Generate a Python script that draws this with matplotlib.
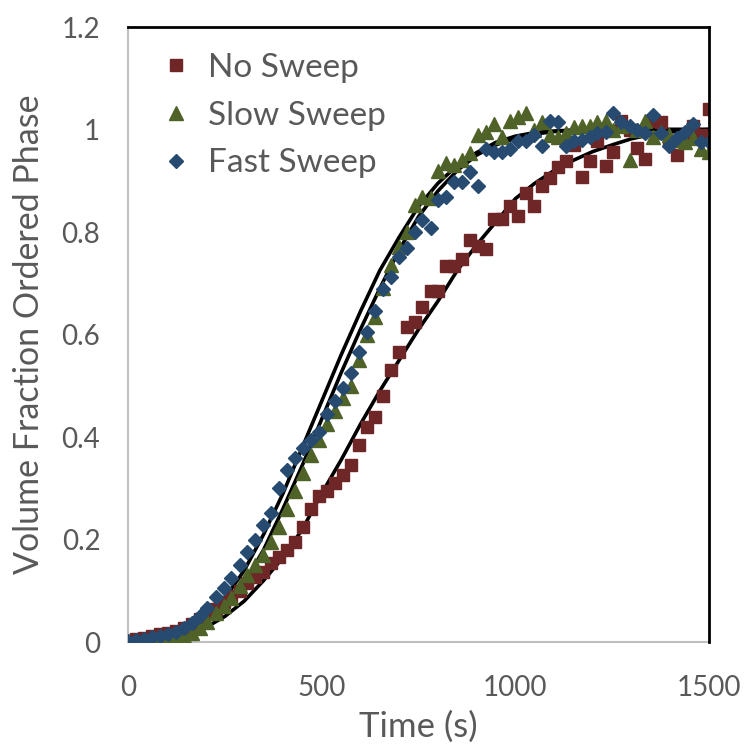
import numpy as np
import matplotlib
matplotlib.use("Agg")
import matplotlib.pyplot as plt

plt.rcParams['font.family'] = ['Lato', 'DejaVu Sans']

# === Data ===
times = [0, 21, 41, 62, 82, 103, 123, 144, 164, 185, 205, 226, 247, 267, 288, 308,
         329, 349, 370, 390, 411, 432, 452, 473, 493, 514, 534, 555, 575, 596, 616,
         637, 658, 678, 699, 719, 740, 760, 781, 801, 822, 842, 863, 884, 904, 925,
         945, 966, 986, 1007, 1027, 1048, 1068, 1089, 1110, 1130, 1151, 1171, 1192,
         1212, 1233, 1253, 1274, 1295, 1315, 1336, 1356, 1377, 1397, 1418, 1438,
         1459, 1479, 1500]

no_sweep = [0.0, 0.005, 0.008, 0.012, 0.015, 0.018, 0.022, 0.027, 0.035, 0.045,
            0.055, 0.065, 0.078, 0.09, 0.10, 0.115, 0.127, 0.137, 0.155, 0.166,
            0.18, 0.195, 0.225, 0.26, 0.285, 0.295, 0.31, 0.325, 0.345, 0.385,
            0.42, 0.44, 0.48, 0.53, 0.566, 0.615, 0.625, 0.654, 0.684, 0.684,
            0.734, 0.734, 0.748, 0.785, 0.773, 0.767, 0.826, 0.826, 0.851, 0.832,
            0.876, 0.85, 0.889, 0.905, 0.926, 0.938, 0.97, 0.908, 0.938, 0.977,
            0.928, 0.957, 1.016, 1.0, 0.963, 0.943, 1.016, 1.014, 0.977, 0.951,
            0.986, 1.006, 0.99, 1.04]

slow_sweep = [0.0, 0.0, 0.002, 0.003, 0.004, 0.006, 0.008, 0.012, 0.018, 0.027,
              0.04, 0.056, 0.07, 0.085, 0.11, 0.13, 0.15, 0.17, 0.195, 0.225,
              0.26, 0.295, 0.33, 0.365, 0.395, 0.425, 0.45, 0.477, 0.50, 0.55,
              0.60, 0.635, 0.69, 0.735, 0.77, 0.80, 0.853, 0.869, 0.867, 0.92,
              0.935, 0.93, 0.94, 0.955, 0.99, 0.995, 1.01, 0.986, 1.016, 1.025,
              1.033, 1.0, 1.014, 0.99, 0.985, 0.994, 1.004, 1.006, 1.006, 1.014,
              1.016, 1.0, 1.006, 0.94, 1.0, 1.016, 0.986, 0.995, 0.99, 0.98,
              0.975, 0.984, 0.961, 0.957]

fast_sweep = [0.002, 0.003, 0.006, 0.009, 0.012, 0.016, 0.02, 0.027, 0.038, 0.05,
              0.066, 0.088, 0.105, 0.125, 0.15, 0.175, 0.2, 0.228, 0.252, 0.30,
              0.335, 0.36, 0.378, 0.395, 0.41, 0.445, 0.47, 0.495, 0.525, 0.566,
              0.605, 0.645, 0.688, 0.713, 0.752, 0.768, 0.80, 0.824, 0.807, 0.863,
              0.869, 0.898, 0.898, 0.918, 0.889, 0.961, 0.957, 0.957, 0.961, 0.977,
              0.977, 0.99, 0.967, 1.016, 1.014, 0.967, 0.977, 0.98, 0.986, 0.994,
              0.996, 1.033, 1.014, 1.006, 1.0, 0.994, 1.029, 0.994, 0.967, 0.984,
              0.996, 1.01, 0.975, 0.975]

# fitted curves
fit_times = [0, 50, 100, 150, 200, 250, 300, 350, 400, 450, 500, 550, 600, 650,
             700, 750, 800, 850, 900, 950, 1000, 1050, 1100, 1150, 1200, 1250,
             1300, 1350, 1400, 1450, 1500]
fit_a = [0.0, 0.002, 0.008, 0.022, 0.045, 0.085, 0.14, 0.21, 0.29, 0.38, 0.47,
         0.56, 0.645, 0.725, 0.79, 0.85, 0.895, 0.93, 0.955, 0.975, 0.987, 0.994,
         0.997, 0.999, 1.0, 1.0, 1.0, 1.0, 1.0, 1.0, 1.0]
fit_b = [0.0, 0.002, 0.007, 0.018, 0.038, 0.07, 0.115, 0.18, 0.26, 0.345, 0.435,
         0.525, 0.61, 0.69, 0.765, 0.83, 0.88, 0.92, 0.95, 0.97, 0.983, 0.991,
         0.996, 0.998, 1.0, 1.0, 1.0, 1.0, 1.0, 1.0, 1.0]
fit_c = [0.0, 0.001, 0.005, 0.013, 0.028, 0.05, 0.08, 0.12, 0.165, 0.22, 0.29,
         0.355, 0.425, 0.49, 0.55, 0.61, 0.665, 0.725, 0.775, 0.82, 0.865, 0.895,
         0.92, 0.94, 0.957, 0.97, 0.982, 0.99, 0.995, 0.998, 1.0]

x_ticks = [0, 500, 1000, 1500]
y_ticks = [0, 0.2, 0.4, 0.6, 0.8, 1.0, 1.2]
y_tick_labels = ["0", "0.2", "0.4", "0.6", "0.8", "1", "1.2"]

text_color = "#595959"

# === Plot ===
fig = plt.figure(figsize=(7.49, 7.48), dpi=100)
ax = fig.add_axes([0.171, 0.1417, 0.7756, 0.8222])

for fy in (fit_a, fit_b, fit_c):
    ax.plot(fit_times, fy, color="black", lw=2.6, zorder=2, solid_capstyle="butt")

ax.plot(times, no_sweep, ls="none", marker="s", ms=8.5, color="#6E2626",
        mec="#6E2626", label="No Sweep", zorder=3)
ax.plot(times, slow_sweep, ls="none", marker="^", ms=9.5, color="#4F6228",
        mec="#4F6228", label="Slow Sweep", zorder=3)
ax.plot(times, fast_sweep, ls="none", marker="D", ms=7.5, color="#264A70",
        mec="#264A70", label="Fast Sweep", zorder=3)

ax.set_xlim(0, 1500)
ax.set_ylim(0, 1.2)
ax.set_xticks(x_ticks)
ax.set_yticks(y_ticks)
ax.set_yticklabels(y_tick_labels)
ax.tick_params(length=0, labelsize=20, colors=text_color)
ax.tick_params(axis="y", pad=20)
ax.tick_params(axis="x", pad=24)

for side in ("left", "bottom"):
    ax.spines[side].set_color("#BFBFBF")
    ax.spines[side].set_linewidth(1.5)
for side in ("top", "right"):
    ax.spines[side].set_color("black")
    ax.spines[side].set_linewidth(2.0)
    ax.spines[side].set_zorder(4)

ax.set_xlabel("Time (s)", fontsize=25, color=text_color, labelpad=7)
ax.set_ylabel("Volume Fraction Ordered Phase", fontsize=24.5, color=text_color,
              labelpad=12)

leg = ax.legend(loc="upper left", bbox_to_anchor=(0.02, 0.99), frameon=False,
                fontsize=24, labelcolor=text_color, handletextpad=0.45,
                labelspacing=0.53, handlelength=1.0, markerscale=1.0,
                borderaxespad=0.2)

fig.savefig("out.png", dpi=100)
